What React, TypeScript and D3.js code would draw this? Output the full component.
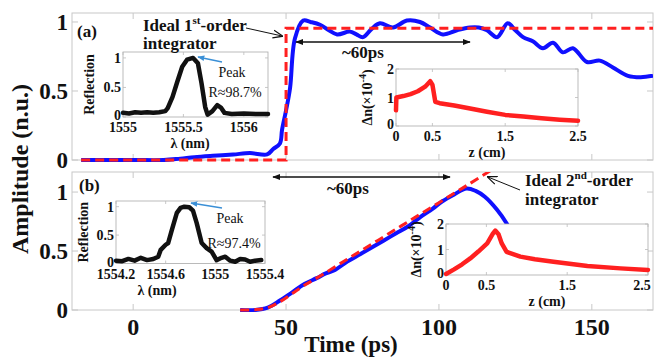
import React from 'react';
import * as d3 from 'd3';

// main traces, panel (a)
const timeA = [-17, 0, 10, 15.4, 20, 26, 32.7, 38.2, 43.8, 45.8, 48, 48.7, 50, 51.3, 52.9, 55.6, 58, 61.1, 64, 66.7, 70.9, 73, 75.2, 78, 80.7, 85, 89.5, 93.8, 97.1, 101.3, 105.9, 110.1, 113, 115.7, 119, 122.5, 125, 127.5, 130.7, 134, 137.3, 140.5, 143.8, 148.4, 152.6, 156.9, 161.8, 166, 170];
const ampA = [0, 0, 0, 0.01, 0.02, 0.03, 0.04, 0.05, 0.04, 0.08, 0.12, 0.22, 0.36, 0.52, 0.88, 1.01, 1.0, 0.98, 0.94, 0.91, 0.93, 0.91, 0.89, 0.95, 0.99, 0.96, 1.01, 1.0, 0.96, 0.91, 0.94, 0.96, 0.96, 0.94, 0.89, 0.99, 0.94, 0.89, 0.86, 0.81, 0.85, 0.78, 0.81, 0.71, 0.72, 0.67, 0.61, 0.6, 0.61];
const timeIdealA = [-17, 50, 50, 170];
const ampIdealA = [0, 0, 0.955, 0.955];

// main traces, panel (b)
const timeB = [35, 40, 44, 48, 52, 56, 60, 63, 66, 70, 74, 78, 82, 86, 90, 94, 98, 101, 105, 109, 112, 115, 119, 122, 126];
const ampB = [0, 0, 0.02, 0.08, 0.15, 0.22, 0.27, 0.31, 0.34, 0.41, 0.47, 0.53, 0.59, 0.65, 0.71, 0.79, 0.86, 0.92, 0.98, 1.03, 1.01, 0.96, 0.85, 0.74, 0.55];
const timeIdealB = [35, 40, 44, 48, 52, 56, 60, 70, 80, 90, 100, 110, 118];
const ampIdealB = [0, 0.003, 0.02, 0.07, 0.14, 0.21, 0.27, 0.43, 0.59, 0.75, 0.91, 1.07, 1.2];

// reflection spectra (insets)
const lamA = [1555.0, 1555.05, 1555.1, 1555.15, 1555.2, 1555.25, 1555.3, 1555.35, 1555.37, 1555.41, 1555.45, 1555.49, 1555.53, 1555.58, 1555.62, 1555.65, 1555.68, 1555.7, 1555.74, 1555.78, 1555.81, 1555.84, 1555.9, 1556.0, 1556.1, 1556.2];
const reflA = [0.07, 0.06, 0.08, 0.07, 0.08, 0.07, 0.08, 0.1, 0.15, 0.34, 0.6, 0.85, 0.97, 1.0, 0.91, 0.57, 0.17, 0.04, 0.1, 0.2, 0.16, 0.07, 0.05, 0.06, 0.05, 0.05];
const lamB = [1554.2, 1554.25, 1554.3, 1554.35, 1554.4, 1554.45, 1554.5, 1554.54, 1554.56, 1554.6, 1554.62, 1554.65, 1554.69, 1554.72, 1554.75, 1554.79, 1554.82, 1554.85, 1554.89, 1554.93, 1554.97, 1555.01, 1555.05, 1555.08, 1555.12, 1555.16, 1555.2, 1555.24, 1555.28, 1555.32, 1555.37];
const reflB = [0.05, 0.04, 0.08, 0.05, 0.1, 0.06, 0.08, 0.12, 0.24, 0.33, 0.36, 0.59, 0.89, 0.98, 1.0, 0.99, 0.93, 0.71, 0.36, 0.27, 0.21, 0.06, 0.1, 0.12, 0.05, 0.03, 0.08, 0.07, 0.03, 0.05, 0.06];

// index modulation profiles (insets)
const zA = [0, 0.005, 0.1, 0.2, 0.3, 0.4, 0.47, 0.5, 0.54, 0.6, 0.8, 1.0, 1.25, 1.5, 1.75, 2.0, 2.25, 2.5];
const dnA = [0.55, 1.0, 1.05, 1.12, 1.22, 1.38, 1.57, 1.45, 0.85, 0.8, 0.72, 0.62, 0.5, 0.39, 0.33, 0.27, 0.22, 0.18];
const zB = [0, 0.1, 0.2, 0.3, 0.4, 0.51, 0.58, 0.61, 0.65, 0.69, 0.75, 0.92, 1.1, 1.33, 1.75, 2.16, 2.5];
const dnB = [0.04, 0.22, 0.42, 0.65, 0.92, 1.24, 1.62, 1.74, 1.6, 1.24, 0.91, 0.72, 0.62, 0.52, 0.35, 0.26, 0.2];

const timeTicks = [0, 50, 100, 150];
const ampTicks = [0, 0.5, 1];

const serif = "'Liberation Serif', 'Times New Roman', serif";
const gridCol = '#c8c8c8';
const blue = '#1010ff';
const red = '#ff2020';

const zip = (xs: number[], ys: number[]) => xs.map((v, i) => [v, ys[i]] as [number, number]);

const x = d3.scaleLinear().domain([-20, 170]).range([72, 653]);
const yA = d3.scaleLinear().domain([0, 1.065]).range([160, 13]);
const yB = d3.scaleLinear().domain([0, 1.17]).range([310, 172]);

function Panel({ y, id }: { y: d3.ScaleLinear<number, number>; id: string }) {
  const [x0, x1] = x.range();
  const [b, t] = y.range();
  return (
    <g>
      <clipPath id={id}><rect x={x0} y={t} width={x1 - x0} height={b - t + 2} /></clipPath>
      <rect x={x0} y={t} width={x1 - x0} height={b - t} fill="none" stroke={gridCol} strokeWidth={1} />
      {timeTicks.map(v => (
        <g key={v} stroke={gridCol}>
          <line x1={x(v)} x2={x(v)} y1={t} y2={t + 6} />
          <line x1={x(v)} x2={x(v)} y1={b} y2={b - 6} />
        </g>
      ))}
      {ampTicks.map(v => (
        <g key={v} stroke={gridCol}>
          <line x1={x0} x2={x0 + 6} y1={y(v)} y2={y(v)} />
          <line x1={x1} x2={x1 - 6} y1={y(v)} y2={y(v)} />
        </g>
      ))}
      {ampTicks.map(v => (
        <text key={v} x={68} y={y(v) + 8} textAnchor="end" fontSize={23} fontWeight="bold">{v}</text>
      ))}
    </g>
  );
}

interface InsetProps {
  left: number; right: number; top: number; bottom: number;
  xd: [number, number]; yd: [number, number];
  xs: number[]; ys: number[];
  color: string;
  xTicks: number[]; xLabels: string[]; yTicks: number[];
  xTitle: React.ReactNode; xTitleX: number; yTitle: React.ReactNode; yTitleX: number;
}

function Inset(p: InsetProps) {
  const sx = d3.scaleLinear().domain(p.xd).range([p.left, p.right]);
  const sy = d3.scaleLinear().domain(p.yd).range([p.bottom, p.top]);
  const line = d3.line<[number, number]>().x(d => sx(d[0])).y(d => sy(d[1]));
  return (
    <g>
      <rect x={p.left} y={p.top} width={p.right - p.left} height={p.bottom - p.top} fill="#fff" stroke="#aaa" strokeWidth={0.8} />
      {p.xTicks.map(v => (
        <g key={v} stroke="#bbb" strokeWidth={0.8}>
          <line x1={sx(v)} x2={sx(v)} y1={p.top} y2={p.top + 3} />
          <line x1={sx(v)} x2={sx(v)} y1={p.bottom} y2={p.bottom - 3} />
        </g>
      ))}
      {p.yTicks.map(v => (
        <g key={v} stroke="#bbb" strokeWidth={0.8}>
          <line x1={p.left} x2={p.left + 3} y1={sy(v)} y2={sy(v)} />
          <line x1={p.right} x2={p.right - 3} y1={sy(v)} y2={sy(v)} />
        </g>
      ))}
      <path d={line(zip(p.xs, p.ys)) || ''} fill="none" stroke={p.color} strokeWidth={4.5} strokeLinejoin="round" strokeLinecap="round" />
      {p.xTicks.map((v, i) => (
        <text key={v} x={Math.min(sx(v), 642)} y={p.bottom + 15} textAnchor="middle" fontSize={14} fontWeight="bold">{p.xLabels[i]}</text>
      ))}
      {p.yTicks.map(v => (
        <text key={v} x={p.left - 2} y={sy(v) + (v === 0 ? 3 : 5)} textAnchor="end" fontSize={14} fontWeight="bold">{v}</text>
      ))}
      <text x={p.xTitleX} y={p.bottom + 31} textAnchor="middle" fontSize={14} fontWeight="bold">{p.xTitle}</text>
      <text transform={`translate(${p.yTitleX},${(p.top + p.bottom) / 2}) rotate(-90)`} textAnchor="middle" fontSize={14} fontWeight="bold">{p.yTitle}</text>
    </g>
  );
}

const dnTitle = (
  <>Δn(×10<tspan dy={-6} fontSize={10}>-4</tspan><tspan dy={6}>)</tspan></>
);

export default function App() {
  const smooth = d3.line<[number, number]>().curve(d3.curveCatmullRom.alpha(0.5));
  const lineA = smooth.x(d => x(d[0])).y(d => yA(d[1]))(zip(timeA, ampA)) || '';
  const idealA = d3.line<[number, number]>().x(d => x(d[0])).y(d => yA(d[1]))(zip(timeIdealA, ampIdealA)) || '';
  const lineB = d3.line<[number, number]>().curve(d3.curveCatmullRom.alpha(0.5)).x(d => x(d[0])).y(d => yB(d[1]))(zip(timeB, ampB)) || '';
  const idealB = d3.line<[number, number]>().curve(d3.curveCatmullRom.alpha(0.5)).x(d => x(d[0])).y(d => yB(d[1]))(zip(timeIdealB, ampIdealB)) || '';

  return (
    <svg width={654} height={358} style={{ position: 'absolute', left: 0, top: 0, background: '#fff' }} fontFamily={serif} fill="#111">
      <defs>
        <marker id="solid" viewBox="0 0 10 10" refX={9} refY={5} markerWidth={8} markerHeight={8} orient="auto-start-reverse" markerUnits="userSpaceOnUse">
          <path d="M0,1 L10,5 L0,9 Z" fill="#111" />
        </marker>
        <marker id="open" viewBox="0 0 10 10" refX={9} refY={5} markerWidth={10} markerHeight={10} orient="auto" markerUnits="userSpaceOnUse">
          <path d="M0,1 L10,5 L0,9" fill="none" stroke="#111" strokeWidth={1.2} />
        </marker>
        <marker id="bluehead" viewBox="0 0 10 10" refX={9} refY={5} markerWidth={7} markerHeight={7} orient="auto" markerUnits="userSpaceOnUse">
          <path d="M0,1 L10,5 L0,9 Z" fill="#3a8fd6" />
        </marker>
      </defs>

      <Panel y={yA} id="clipA" />
      <Panel y={yB} id="clipB" />

      <g clipPath="url(#clipA)">
        <path d={lineA} fill="none" stroke={blue} strokeWidth={4} strokeLinejoin="round" />
        <path d={idealA} fill="none" stroke={red} strokeWidth={3} strokeDasharray="9,5" />
      </g>
      <g clipPath="url(#clipB)">
        <path d={lineB} fill="none" stroke={blue} strokeWidth={4} strokeLinejoin="round" />
        <path d={idealB} fill="none" stroke={red} strokeWidth={3} strokeDasharray="9,5" />
      </g>

      {/* insets, panel (a) */}
      <Inset left={123} right={268} top={52} bottom={117} xd={[1555, 1556.2]} yd={[0, 1.1]} xs={lamA} ys={reflA} color="#111"
        xTicks={[1555, 1555.5, 1556]} xLabels={['1555', '1555.5', '1556']} yTicks={[0, 0.5, 1]}
        xTitle="λ (nm)" xTitleX={190} yTitle="Reflection" yTitleX={94} />
      <Inset left={396} right={578} top={69} bottom={126} xd={[0, 2.5]} yd={[0, 2]} xs={zA} ys={dnA} color={red}
        xTicks={[0, 0.5, 1.5, 2.5]} xLabels={['0', '0.5', '1.5', '2.5']} yTicks={[0, 1, 2]}
        xTitle="z (cm)" xTitleX={487} yTitle={dnTitle} yTitleX={372} />

      {/* insets, panel (b) */}
      <Inset left={116} right={265} top={201} bottom={263.5} xd={[1554.2, 1555.4]} yd={[0, 1.1]} xs={lamB} ys={reflB} color="#111"
        xTicks={[1554.2, 1554.6, 1555, 1555.4]} xLabels={['1554.2', '1554.6', '1555', '1555.4']} yTicks={[0, 0.5, 1]}
        xTitle="λ (nm)" xTitleX={157} yTitle="Reflection" yTitleX={88} />
      <Inset left={446} right={648} top={224} bottom={275} xd={[0, 2.5]} yd={[0, 2]} xs={zB} ys={dnB} color={red}
        xTicks={[0, 0.5, 1.5, 2.5]} xLabels={['0', '0.5', '1.5', '2.5']} yTicks={[0, 1, 2]}
        xTitle="z (cm)" xTitleX={547} yTitle={dnTitle} yTitleX={421} />

      {/* peak annotations */}
      <line x1={222} y1={62} x2={198} y2={57} stroke="#3a8fd6" strokeWidth={1.3} markerEnd="url(#bluehead)" />
      <text x={232} y={77} textAnchor="middle" fontSize={14}>Peak</text>
      <text x={235} y={97} textAnchor="middle" fontSize={14}>R≈98.7%</text>
      <line x1={222} y1={208} x2={191} y2={203} stroke="#3a8fd6" strokeWidth={1.3} markerEnd="url(#bluehead)" />
      <text x={230} y={223} textAnchor="middle" fontSize={14}>Peak</text>
      <text x={234} y={248} textAnchor="middle" fontSize={14}>R≈97.4%</text>

      {/* panel labels and ideal integrator notes */}
      <text x={77} y={37} fontSize={17} fontWeight="bold">(a)</text>
      <text x={79} y={191} fontSize={17} fontWeight="bold">(b)</text>
      <text x={143} y={31} fontSize={17} fontWeight="bold">Ideal 1<tspan dy={-7} fontSize={11}>st</tspan><tspan dy={7}>-order</tspan></text>
      <text x={143} y={49} fontSize={17} fontWeight="bold">integrator</text>
      <line x1={246} y1={28} x2={282} y2={36} stroke="#111" strokeWidth={1} markerEnd="url(#open)" />
      <text x={525} y={186} fontSize={17} fontWeight="bold">Ideal 2<tspan dy={-7} fontSize={11}>nd</tspan><tspan dy={7}>-order</tspan></text>
      <text x={525} y={205} fontSize={17} fontWeight="bold">integrator</text>
      <line x1={520} y1={190} x2={488} y2={177} stroke="#111" strokeWidth={1} markerEnd="url(#open)" />

      {/* ~60ps spans */}
      <line x1={296} y1={42} x2={470} y2={42} stroke="#111" strokeWidth={1.3} markerStart="url(#solid)" markerEnd="url(#solid)" />
      <text x={363} y={58} textAnchor="middle" fontSize={17} fontWeight="bold">~60ps</text>
      <line x1={273} y1={177} x2={450} y2={177} stroke="#111" strokeWidth={1.3} markerStart="url(#solid)" markerEnd="url(#solid)" />
      <text x={348} y={194} textAnchor="middle" fontSize={17} fontWeight="bold">~60ps</text>

      {/* main axes text */}
      {timeTicks.map(v => (
        <text key={v} x={x(v)} y={335} textAnchor="middle" fontSize={24} fontWeight="bold">{v}</text>
      ))}
      <text x={351} y={352} textAnchor="middle" fontSize={23} fontWeight="bold">Time (ps)</text>
      <text transform="translate(28,169) rotate(-90)" textAnchor="middle" fontSize={24} fontWeight="bold">Amplitude (n.u.)</text>
    </svg>
  );
}
